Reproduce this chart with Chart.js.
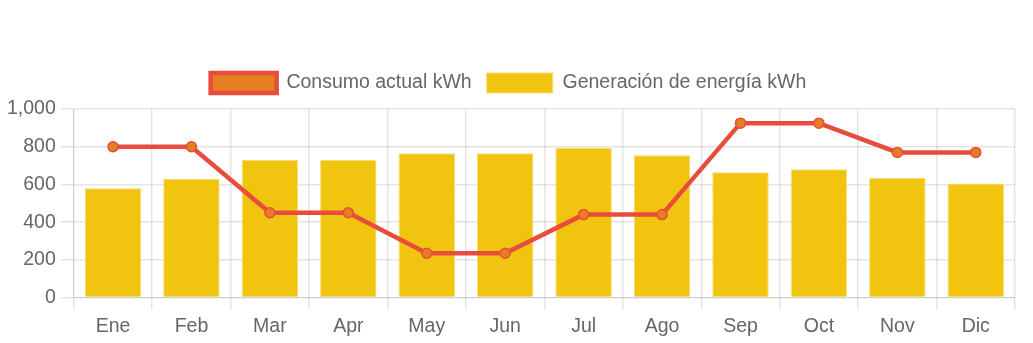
<!DOCTYPE html>
<html>
<head>
<meta charset="utf-8">
<script src="https://cdn.jsdelivr.net/npm/chart.js@4/dist/chart.umd.min.js"></script>
<style>
  html, body { margin: 0; padding: 0; background: #fff; }
  #wrap { width: 1033px; height: 343px; position: relative; }
</style>
</head>
<body>
<div id="wrap"><canvas id="chart"></canvas></div>
<script>
// Monthly energy: consumption (line) vs. solar generation (bars)
const meses = ['Ene', 'Feb', 'Mar', 'Apr', 'May', 'Jun', 'Jul', 'Ago', 'Sep', 'Oct', 'Nov', 'Dic'];
const consumoActual = [800, 800, 450, 450, 235, 235, 440, 440, 925, 925, 770, 770];
const generacion = [580, 630, 730, 730, 765, 765, 795, 755, 665, 680, 635, 605];

const FONT = { family: "'Liberation Sans', Arial, Helvetica, sans-serif", size: 19.5 };

// Extra breathing room under the legend
const legendGap = {
  id: 'legendGap',
  beforeInit(chart) {
    const fit = chart.legend.fit;
    chart.legend.fit = function () {
      fit.call(this);
      this.height += 6;
    };
  }
};

new Chart(document.getElementById('chart'), {
  type: 'bar',
  data: {
    labels: meses,
    datasets: [
      {
        type: 'line',
        label: 'Consumo actual kWh',
        data: consumoActual,
        borderColor: '#E74C3C',
        backgroundColor: '#E67E22',
        borderWidth: 4.5,
        pointRadius: 5,
        pointBorderWidth: 1.5,
        pointBackgroundColor: '#E67E22',
        pointBorderColor: '#E74C3C',
        tension: 0,
        fill: false
      },
      {
        type: 'bar',
        label: 'Generación de energía kWh',
        data: generacion,
        backgroundColor: '#F1C40F',
        borderColor: '#F7DC6F',
        borderWidth: 1
      }
    ]
  },
  plugins: [legendGap],
  options: {
    responsive: true,
    maintainAspectRatio: false,
    animation: false,
    layout: { padding: { top: 58, right: 18, left: 2, bottom: 0 } },
    plugins: {
      legend: {
        position: 'top',
        labels: {
          color: '#666',
          font: FONT,
          boxWidth: 66,
          boxHeight: 20,
          padding: 15
        }
      },
      tooltip: { enabled: false }
    },
    scales: {
      x: {
        grid: { color: 'rgba(0,0,0,0.1)', tickLength: 12, lineWidth: 1.5 },
        ticks: { color: '#666', font: FONT, padding: 5 }
      },
      y: {
        min: 0,
        max: 1000,
        grid: { color: 'rgba(0,0,0,0.1)', tickLength: 13, lineWidth: 1.5 },
        ticks: { color: '#666', font: FONT, stepSize: 200, padding: 5 }
      }
    }
  }
});
</script>
</body>
</html>
